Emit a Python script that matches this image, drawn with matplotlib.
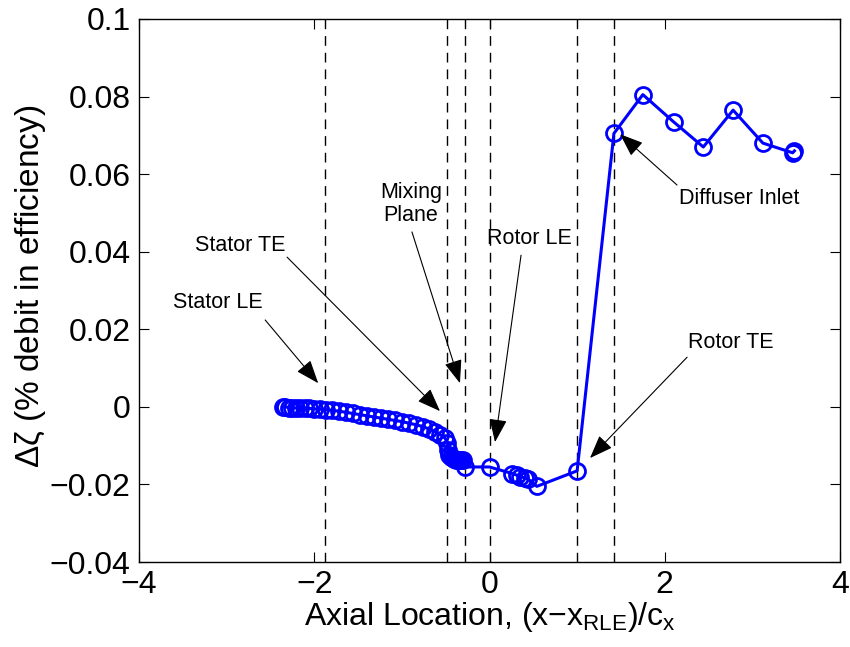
import numpy as np
import matplotlib
matplotlib.use("Agg")
import matplotlib.pyplot as plt

plt.rcParams['font.family'] = ['Liberation Sans', 'DejaVu Sans']
plt.rcParams['mathtext.fontset'] = 'custom'
plt.rcParams['mathtext.rm'] = 'Liberation Sans'
plt.rcParams['mathtext.it'] = 'Liberation Sans:italic'

# loss along the machine, stator -> mixing plane -> rotor -> diffuser
x_loc = [-2.36, -2.33, -2.29, -2.25, -2.21, -2.16, -2.11, -2.06, -2.00, -1.94,
         -1.87, -1.80, -1.72, -1.64, -1.56, -1.48, -1.40, -1.32, -1.24, -1.16,
         -1.08, -1.00, -0.92, -0.84, -0.76, -0.69, -0.62, -0.56, -0.51, -0.48,
         -0.47, -0.46, -0.44, -0.42, -0.40, -0.38, -0.36, -0.34, -0.32, -0.30,
         -0.28, 0.00, 0.26, 0.31, 0.35, 0.40, 0.44, 0.54, 1.00,
         1.42, 1.75, 2.10, 2.44, 2.78, 3.12, 3.46, 3.48]
dzeta = [0.0000, 0.0000, -0.0002, -0.0003, -0.0003, -0.0004, -0.0004, -0.0004, -0.0005, -0.0006,
         -0.0007, -0.0009, -0.0011, -0.0014, -0.0017, -0.0020, -0.0023, -0.0026, -0.0029, -0.0032,
         -0.0035, -0.0038, -0.0042, -0.0046, -0.0051, -0.0057, -0.0064, -0.0072, -0.0080, -0.0092,
         -0.0112, -0.0124, -0.0130, -0.0133, -0.0135, -0.0136, -0.0137, -0.0137, -0.0138, -0.0137,
         -0.0155, -0.0155, -0.0172, -0.0176, -0.0180, -0.0183, -0.0186, -0.0205, -0.0165,
         0.0705, 0.0805, 0.0735, 0.0670, 0.0765, 0.0680, 0.0655, 0.0660]

# reference stations (dashed lines)
stations = [-1.88, -0.485, -0.28, 0.0, 1.0, 1.42]

# labels: text, text position, arrow tail, arrow tip
labels = ["Stator LE", "Stator TE", "Mixing\nPlane", "Rotor LE", "Rotor TE", "Diffuser Inlet"]
text_xy = [(-3.10, 0.0270), (-2.85, 0.0417), (-0.895, 0.0523), (0.45, 0.0435), (2.75, 0.0165), (2.85, 0.0538)]
tail_xy = [(-2.56, 0.0224), (-2.31, 0.0386), (-0.885, 0.0451), (0.36, 0.0391), (2.255, 0.0128), (2.14, 0.0572)]
tip_xy = [(-1.955, 0.0061), (-0.565, -0.0011), (-0.337, 0.0061), (0.063, -0.0091), (1.147, -0.0132), (1.49, 0.0703)]

fig = plt.figure(figsize=(8.5, 6.47), dpi=100)
ax = fig.add_axes([139/850, 85/647, 701/850, 543/647])

for s in stations:
    ax.axvline(s, color='k', lw=1.0, dashes=(7, 5), zorder=1)

ax.plot(x_loc, dzeta, '-o', color='b', lw=2.2, ms=11.5, mew=2.0, mfc='none', zorder=3)

for lab, txy, tl, tp in zip(labels, text_xy, tail_xy, tip_xy):
    ax.text(txy[0], txy[1], lab, ha='center', va='center', fontsize=15.5, linespacing=1.15)
    ax.annotate('', xy=tp, xytext=tl,
                arrowprops=dict(arrowstyle='-|>,head_length=1.45,head_width=0.55',
                                color='k', lw=0.8, shrinkA=0, shrinkB=0))

ax.set_xlim(-4, 4)
ax.set_ylim(-0.04, 0.1)
ax.set_xticks([-4, -2, 0, 2, 4])
ax.set_xticklabels(['\u22124', '\u22122', '0', '2', '4'])
yt = [-0.04, -0.02, 0, 0.02, 0.04, 0.06, 0.08, 0.1]
ax.set_yticks(yt)
ax.set_yticklabels(['\u22120.04', '\u22120.02', '0', '0.02', '0.04', '0.06', '0.08', '0.1'])
ax.tick_params(direction='in', length=7, width=0.8, top=True, right=True, labelsize=23, pad=6)
for sp in ax.spines.values():
    sp.set_linewidth(1.0)

ax.set_xlabel(r'Axial Location, (x$\mathregular{-}$x$_{\mathregular{RLE}}$)/c$_{\mathregular{x}}$',
              fontsize=23)
ax.xaxis.set_label_coords(0.5, -0.07)
ax.set_ylabel(r'$\mathregular{\Delta\zeta}$ (% debit in efficiency)', fontsize=24)
ax.yaxis.set_label_coords(-0.13, 0.508)

fig.savefig('out.png', dpi=100)
